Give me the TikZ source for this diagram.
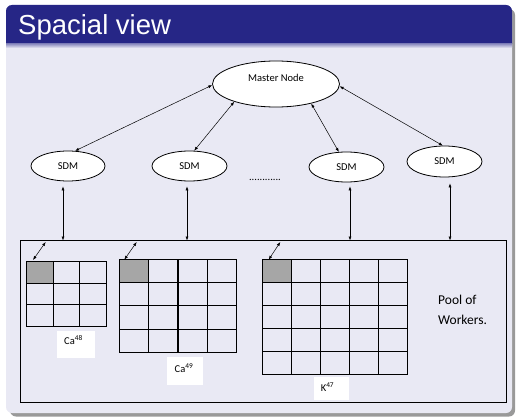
\documentclass[tikz,border=0pt]{standalone}
\usepackage{fontspec}
\setmainfont{Carlito}
\newfontfamily\titlefont{Liberation Sans}
\usetikzlibrary{shapes.geometric,arrows.meta}
\definecolor{titleblue}{RGB}{38,38,134}
\definecolor{bodybg}{RGB}{233,233,244}
\definecolor{cellgray}{RGB}{166,166,166}
\newcommand{\drawcellgrid}[6]{%
  \fill[cellgray] (#1,#2) rectangle ++(#5,#6);
  \foreach \i in {0,...,#3} \draw[gridline] (#1+\i*#5,#2) -- ++(0,#4*#6);
  \foreach \j in {0,...,#4} \draw[gridline] (#1,#2+\j*#6) -- ++(#3*#5,0);
}
\begin{document}
\begin{tikzpicture}[x=1pt,y=-1pt,
  ell/.style={ellipse,draw,line width=0.8pt,fill=white,inner sep=0pt,font=\fontsize{10.5}{12}\selectfont},
  txt/.style={font=\fontsize{10.5}{12}\selectfont,inner sep=0pt},
  conn/.style={line width=0.5pt,{Latex[length=4pt,width=3pt]}-{Latex[length=4pt,width=3pt]}},
  gridline/.style={line width=1.1pt,line cap=rect},
  lbox/.style={fill=white,inner sep=0pt}]
\useasboundingbox (0,0) rectangle (516,417);
% frame
\fill[black!40,rounded corners=6pt] (10,9) rectangle (515,416.5);
\fill[bodybg,rounded corners=6pt] (6,5) rectangle (512,413);
\fill[titleblue] (6,44) {[rounded corners=6pt] -- (6,5) -- (512,5)} -- (512,44) -- cycle;
\shade[top color=titleblue!45!bodybg, bottom color=bodybg] (6,44) rectangle (512,48);
\node[anchor=base west,text=white,font=\titlefont\fontsize{27.5}{30}\selectfont,inner sep=0pt] (title) at (18,35) {Spacial view};
% master and SDMs
\node[ell,minimum width=127pt,minimum height=46pt] (m) at (276,84) {};
\node[txt] (mt) at (276,78) {Master Node};
\node[ell,minimum width=74pt,minimum height=30pt] (s1) at (68,166) {SDM};
\node[ell,minimum width=75pt,minimum height=30pt] (s2) at (189.5,166) {SDM};
\node[ell,minimum width=75pt,minimum height=30pt] (s3) at (346.5,167) {SDM};
\node[ell,minimum width=75pt,minimum height=31pt] (s4) at (444.5,161.5) {SDM};
\node[txt,anchor=base] (dots) at (265,180.5) {............};
\draw[conn] (m.181) -- (s1.65);
\draw[conn] (m.203) -- (s2.73);
\draw[conn] (m.331) -- (s3.117);
\draw[conn] (m.358) -- (s4.96);
% pool
\node[draw,line width=0.8pt,minimum width=486pt,minimum height=161.5pt,inner sep=0pt] (pool) at (263,321.25) {};
\coordinate (p1) at (63,240.5);
\coordinate (p2) at (187,240.5);
\coordinate (p3) at (350,240.5);
\coordinate (p4) at (450,240.5);
\draw[conn,shorten <=5pt] (s1.south -| p1) -- (p1);
\draw[conn,shorten <=5pt] (s2.south -| p2) -- (p2);
\draw[conn,shorten <=4pt] (s3.south -| p3) -- (p3);
\draw[conn,shorten <=6pt] (s4.south -| p4) -- (p4);
% grids
\drawcellgrid{26.3}{261.3}{3}{3}{26.8}{21.8}
\drawcellgrid{119.3}{259.3}{4}{4}{29.35}{23.25}
\drawcellgrid{262.3}{259.3}{5}{5}{29}{23}
\coordinate (g1) at (33,260);   \coordinate (q1) at (45.7,242);
\coordinate (g2) at (124.3,259.7); \coordinate (q2) at (136.7,242);
\coordinate (g3) at (268.7,259.7); \coordinate (q3) at (280.3,242);
\draw[conn] (g1) -- (q1);
\draw[conn] (g2) -- (q2);
\draw[conn] (g3) -- (q3);
% labels
\node[lbox,minimum width=38pt,minimum height=27pt] (b1) at (76,344.5) {};
\node[txt] (l1) at (73.5,340) {Ca\textsuperscript{48}};
\node[lbox,minimum width=36pt,minimum height=27.7pt] (b2) at (185,370.8) {};
\node[txt] (l2) at (184,368) {Ca\textsuperscript{49}};
\node[lbox,minimum width=35pt,minimum height=22.7pt] (b3) at (331.2,388.7) {};
\node[txt] (l3) at (327.5,387.5) {K\textsuperscript{47}};
\node[font=\fontsize{13.5}{20}\selectfont,align=left,anchor=west,inner sep=0pt] (pw) at (438,310) {Pool of\\Workers.};
\end{tikzpicture}
\end{document}
